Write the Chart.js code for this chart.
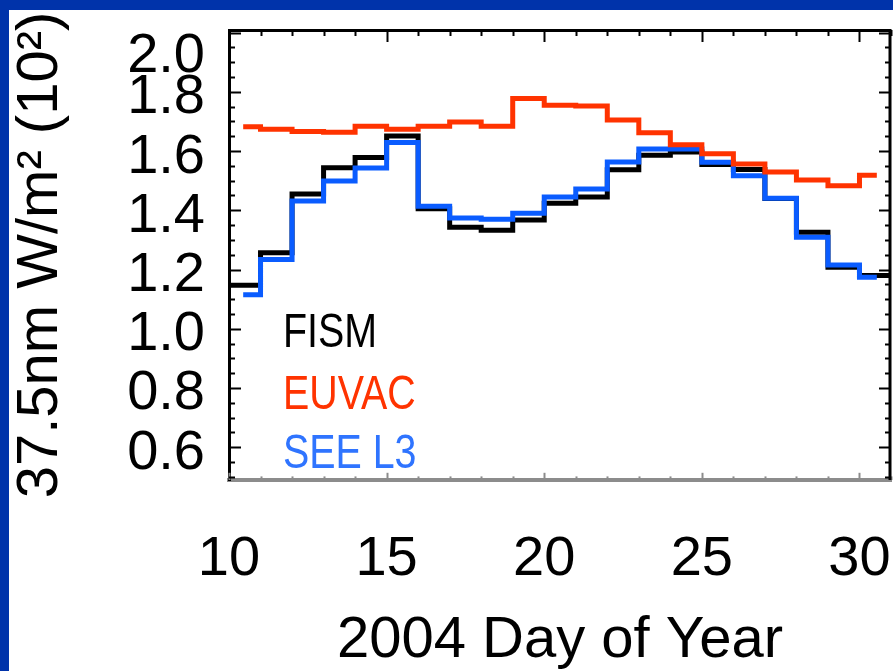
<!DOCTYPE html>
<html><head><meta charset="utf-8">
<script src="https://cdn.jsdelivr.net/npm/chart.js@4/dist/chart.umd.min.js"></script>
<style>
html,body{margin:0;padding:0;background:#0033aa;width:893px;height:671px;overflow:hidden}
#wrap{position:absolute;left:9px;top:10px;width:884px;height:661px;background:#fff}
canvas{display:block}
</style></head><body>
<div id="wrap"><canvas id="c" width="884" height="661"></canvas></div>
<script>
// ---- data ----
const days = [10,11,12,13,14,15,16,17,18,19,20,21,22,23,24,25,26,27,28,29,30];
const fismValues  = [1.147,1.257,1.455,1.544,1.578,1.651,1.405,1.343,1.333,1.367,1.424,1.445,1.537,1.586,1.597,1.555,1.538,1.440,1.326,1.208,1.180];
const euvacValues = [1.682,1.674,1.666,1.664,1.684,1.674,1.684,1.698,1.684,1.778,1.755,1.752,1.705,1.662,1.621,1.591,1.556,1.529,1.502,1.483,1.518];
const seeL3Values = [1.115,1.234,1.431,1.499,1.543,1.629,1.414,1.374,1.370,1.390,1.445,1.472,1.563,1.607,1.607,1.562,1.517,1.441,1.309,1.215,1.174];
const fismSpan  = [10, 31];
const euvacSpan = [10.45, 30.55];
const seeL3Span = [10.45, 30.55];
const seriesNames = ['FISM', 'EUVAC', 'SEE L3'];
const xTickValues = [10, 15, 20, 25, 30];
const yTickValues = [0.6, 0.8, 1.0, 1.2, 1.4, 1.6, 1.8, 2.0];
const yTickLabels = ['0.6', '0.8', '1.0', '1.2', '1.4', '1.6', '1.8', '2.0'];
const xTitle = '2004 Day of Year';
const yTitle = '37.5nm W/m\u00B2 (10\u00B2)';

const COLORS = { fism: '#000000', euvac: '#ff3300', see: '#0a5cff', seeText: '#2f74ff' };
const FONT = '"Liberation Sans", Arial, Helvetica, sans-serif';

function stepPoints(values, span) {
  const pts = days.map((d, i) => ({ x: Math.max(d, span[0]), y: values[i] }));
  pts.push({ x: span[1], y: values[values.length - 1] });
  return pts;
}

// labels sit slightly below their tick (top label further down, as in the reference)
function shiftedLabel(text, steps) {
  const lines = [];
  for (let i = 0; i < steps; i++) lines.push('');
  lines.push(text);
  return lines;
}

const framePlugin = {
  id: 'frame',
  afterDatasetsDraw(chart) {
    const { ctx, chartArea: a, scales: { x, y } } = chart;
    ctx.save();
    ctx.lineCap = 'butt';
    for (let d = Math.ceil(x.min); d <= x.max; d++) {
      const px = Math.round(x.getPixelForValue(d)) + 0.5;
      const len = d % 5 === 0 ? 12 : 6;
      ctx.lineWidth = 2;
      ctx.strokeStyle = '#000';
      ctx.beginPath(); ctx.moveTo(px, a.top); ctx.lineTo(px, a.top + len); ctx.stroke();
      ctx.strokeStyle = '#8c8c8c';
      ctx.beginPath(); ctx.moveTo(px, a.bottom); ctx.lineTo(px, a.bottom - len * 0.6); ctx.stroke();
    }
    for (let k = Math.ceil(y.min / 0.05 - 1e-6); k * 0.05 <= y.max + 1e-9; k++) {
      const py = Math.round(y.getPixelForValue(k * 0.05)) + 0.5;
      const len = k % 4 === 0 ? 12 : 6;
      ctx.lineWidth = 2;
      ctx.strokeStyle = '#000';
      ctx.beginPath(); ctx.moveTo(a.left, py); ctx.lineTo(a.left + len, py); ctx.stroke();
      ctx.beginPath(); ctx.moveTo(a.right, py); ctx.lineTo(a.right - len, py); ctx.stroke();
    }
    ctx.strokeStyle = '#000';
    ctx.lineWidth = 3;
    ctx.beginPath();
    ctx.moveTo(a.left, a.top + 0.5);
    ctx.lineTo(a.right - 1, a.top + 0.5);
    ctx.lineTo(a.right - 1, a.bottom);
    ctx.stroke();
    const items = [
      { t: seriesNames[0], c: COLORS.fism, dy: 317 },
      { t: seriesNames[1], c: COLORS.euvac, dy: 379 },
      { t: seriesNames[2], c: COLORS.seeText, dy: 438 }
    ];
    ctx.font = '48px ' + FONT;
    ctx.textBaseline = 'alphabetic';
    ctx.textAlign = 'left';
    items.forEach(it => {
      ctx.save();
      ctx.translate(a.left + 54, a.top + it.dy);
      ctx.scale(0.82, 1);
      ctx.fillStyle = it.c;
      ctx.fillText(it.t, 0, 0);
      ctx.restore();
    });
    ctx.restore();
  }
};

new Chart(document.getElementById('c'), {
  type: 'line',
  data: {
    datasets: [
      { label: seriesNames[1], data: stepPoints(euvacValues, euvacSpan), borderColor: COLORS.euvac, borderWidth: 5, stepped: true, pointRadius: 0, fill: false },
      { label: seriesNames[2], data: stepPoints(seeL3Values, seeL3Span), borderColor: COLORS.see, borderWidth: 5, stepped: true, pointRadius: 0, fill: false },
      { label: seriesNames[0], data: stepPoints(fismValues, fismSpan), borderColor: COLORS.fism, borderWidth: 5, stepped: true, pointRadius: 0, fill: false }
    ]
  },
  options: {
    responsive: false,
    devicePixelRatio: 1,
    animation: false,
    events: [],
    layout: { padding: { top: 20, right: 2, left: 0, bottom: 0 } },
    plugins: { legend: { display: false }, tooltip: { enabled: false } },
    scales: {
      x: {
        type: 'linear', min: 10, max: 31,
        afterBuildTicks: s => { s.ticks = xTickValues.map(v => ({ value: v })); },
        afterFit: s => { s.height = 191; },
        grid: { display: false, drawTicks: false },
        border: { display: true, color: '#8c8c8c', width: 4 },
        ticks: { color: '#000', padding: 0, maxRotation: 0, autoSkip: false,
                 font: { family: FONT, size: 56, lineHeight: '160px' } },
        title: { display: true, text: xTitle, color: '#000', padding: { top: 0, bottom: 1 },
                 font: { family: FONT, size: 58, lineHeight: 1 } }
      },
      y: {
        type: 'linear', min: 0.489, max: 2.009,
        afterBuildTicks: s => { s.ticks = yTickValues.map(v => ({ value: v })); },
        afterFit: s => { s.width = 220; s.paddingTop = 0; s.paddingBottom = 0; },
        grid: { display: true, drawOnChartArea: false, drawTicks: true, tickLength: 24, tickColor: 'rgba(0,0,0,0)' },
        border: { display: true, color: '#000', width: 3 },
        ticks: { color: '#000', padding: 0, autoSkip: false,
                 callback: (v) => {
                   const i = yTickValues.findIndex(t => Math.abs(t - v) < 1e-6);
                   return shiftedLabel(yTickLabels[i], i === yTickValues.length - 1 ? 4 : 1);
                 },
                 font: { family: FONT, size: 56, lineHeight: '12px' } },
        title: { display: true, text: yTitle, color: '#000', padding: { top: 3, bottom: 0 },
                 font: { family: FONT, size: 58, lineHeight: 1 } }
      }
    }
  },
  plugins: [framePlugin]
});
</script>
</body></html>
